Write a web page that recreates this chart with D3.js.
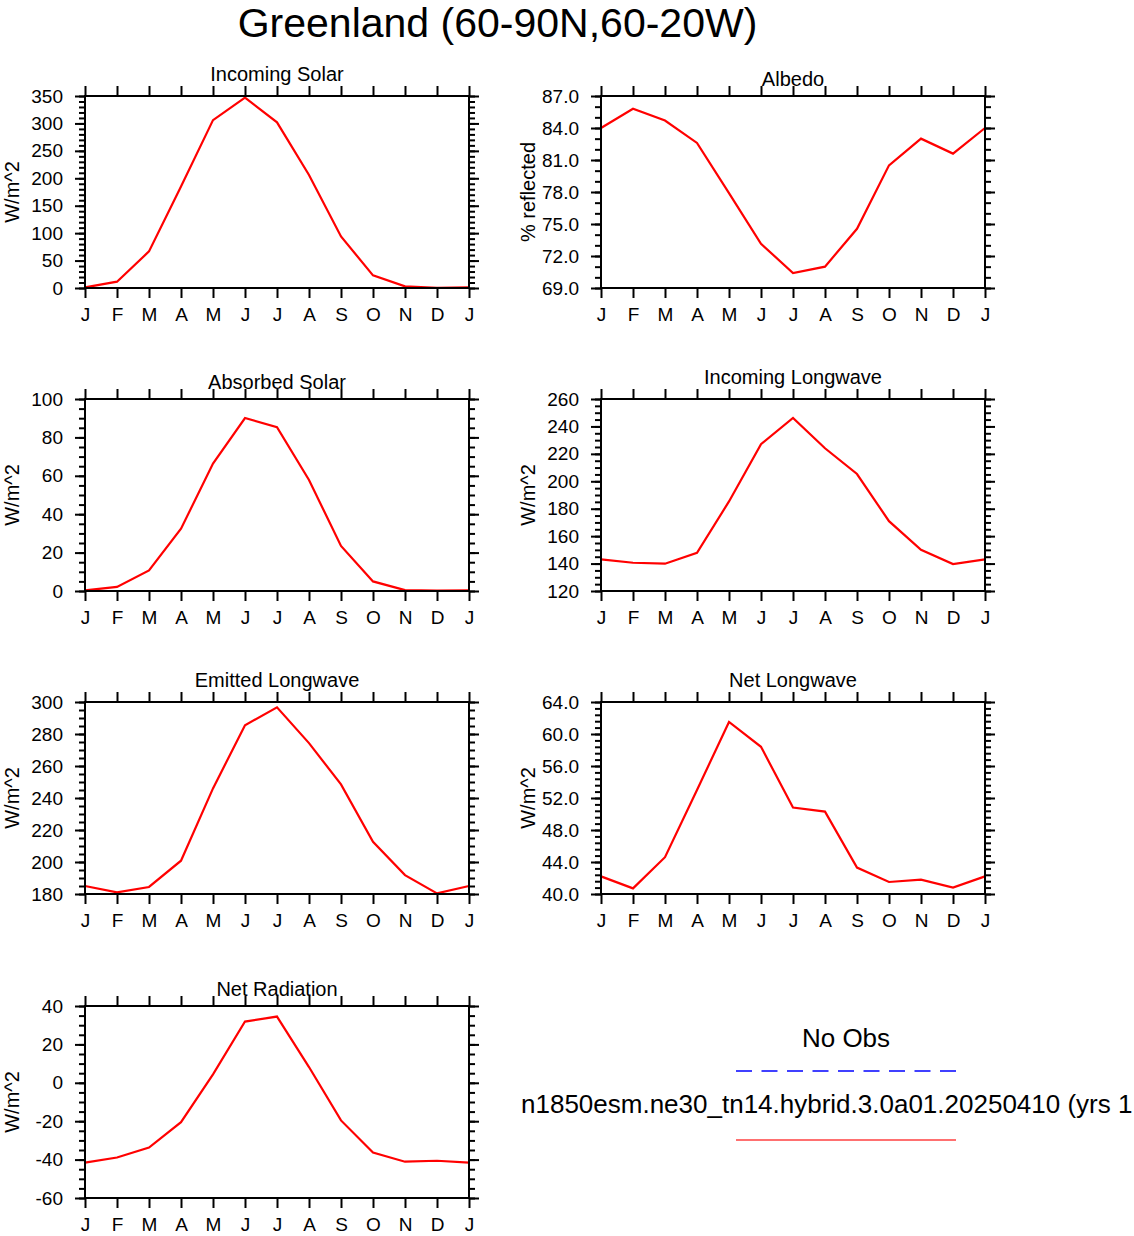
<!DOCTYPE html>
<html>
<head>
<meta charset="utf-8">
<script src="https://d3js.org/d3.v7.min.js"></script>
<style>
    body {
        margin: 0;
        background: #fff;
    }
    svg {
        font-family: "Liberation Sans", Arial, Helvetica, sans-serif;
        display: block;
    }
    .axis path {
        display: none;
    }
    .axis line {
        stroke: #000;
        stroke-width: 2;
    }
    .axis text {
        font-size: 19px;
        fill: #000;
    }
    .frame {
        fill: none;
        stroke: #000;
        stroke-width: 2;
    }
    .series {
        fill: none;
        stroke: #ff0000;
        stroke-width: 2.2;
    }
</style>
</head>
<body>
<script>
    // month labels, Jan..Dec then Jan again to close the cycle
    var months = ["J", "F", "M", "A", "M", "J", "J", "A", "S", "O", "N", "D", "J"];

    // monthly climatology (Jan..Dec)
    var incomingSolar = [1, 11.5, 66.7, 185, 306, 347, 302, 206, 94, 23, 3, 0.2];
    var albedo = [84.0, 85.8, 84.7, 82.6, 77.9, 73.15, 70.4, 71.0, 74.55, 80.5, 83.0, 81.6];
    var absorbedSolar = [0.3, 2.1, 10.7, 32.4, 66.4, 90.1, 85.3, 57.8, 23.5, 5.0, 0.5, 0.2];
    var incomingLongwave = [143.0, 140.6, 139.9, 147.9, 185.3, 227.1, 246.2, 224.1, 205.3, 170.9, 150.0, 139.6];
    var emittedLongwave = [185.0, 181.0, 184.4, 200.8, 246.0, 285.5, 296.7, 274.3, 248.5, 212.6, 191.8, 180.4];
    var netLongwave = [42.2, 40.7, 44.6, 53.0, 61.5, 58.4, 50.8, 50.3, 43.3, 41.5, 41.8, 40.8];
    var netRadiation = [-41.6, -38.9, -33.7, -20.5, 4.4, 31.9, 34.5, 8.2, -19.6, -36.3, -41.1, -40.6];

    // y axis ranges: [min, max, major step, minor step, decimals]
    var yIncomingSolar = [0, 350, 50, 10, 0];
    var yAlbedo = [69, 87, 3, 1, 1];
    var yAbsorbedSolar = [0, 100, 20, 5, 0];
    var yIncomingLongwave = [120, 260, 20, 5, 0];
    var yEmittedLongwave = [180, 300, 20, 5, 0];
    var yNetLongwave = [40, 64, 4, 0.8, 1];
    var yNetRadiation = [-60, 40, 20, 5, 0];

    var mainTitle = "Greenland (60-90N,60-20W)";
    var legendObs = "No Obs";
    var legendModel = "n1850esm.ne30_tn14.hybrid.3.0a01.20250410 (yrs 1";

    var panels = [
        {title: "Incoming Solar", label: "W/m^2", values: incomingSolar, y: yIncomingSolar},
        {title: "Albedo", label: "% reflected", values: albedo, y: yAlbedo},
        {title: "Absorbed Solar", label: "W/m^2", values: absorbedSolar, y: yAbsorbedSolar},
        {title: "Incoming Longwave", label: "W/m^2", values: incomingLongwave, y: yIncomingLongwave},
        {title: "Emitted Longwave", label: "W/m^2", values: emittedLongwave, y: yEmittedLongwave},
        {title: "Net Longwave", label: "W/m^2", values: netLongwave, y: yNetLongwave},
        {title: "Net Radiation", label: "W/m^2", values: netRadiation, y: yNetRadiation}
    ];

    var W = 1134, H = 1236,
        plotW = 384, plotH = 192,
        colX = [85, 601],
        rowY = [96, 399, 702, 1006];

    var svg = d3.select("body").append("svg")
        .attr("width", W)
        .attr("height", H);

    svg.append("text")
        .attr("x", 497.5)
        .attr("y", 37)
        .attr("text-anchor", "middle")
        .style("font-size", "41px")
        .text(mainTitle);

    function steps(lo, hi, step) {
        var n = Math.round((hi - lo) / step);
        return d3.range(n + 1).map(function(i) { return lo + i * step; });
    }

    var x = d3.scaleLinear().domain([0, 12]).range([0, plotW]);

    panels.forEach(function(p, i) {
        var col = i % 2, row = Math.floor(i / 2);
        var g = svg.append("g")
            .attr("transform", "translate(" + colX[col] + "," + rowY[row] + ")");

        var lo = p.y[0], hi = p.y[1], dec = p.y[4];
        var y = d3.scaleLinear().domain([lo, hi]).range([plotH, 0]);
        var majors = steps(lo, hi, p.y[2]);
        var minors = steps(lo, hi, p.y[3]);
        var fmt = function(d) { return d.toFixed(dec); };

        // minor ticks first, majors on top
        g.append("g").attr("class", "axis")
            .call(d3.axisLeft(y).tickValues(minors).tickSize(6).tickFormat(""));
        g.append("g").attr("class", "axis")
            .attr("transform", "translate(" + plotW + ",0)")
            .call(d3.axisRight(y).tickValues(minors).tickSize(6).tickFormat(""));

        g.append("g").attr("class", "axis")
            .call(d3.axisLeft(y).tickValues(majors).tickSize(10).tickPadding(12).tickFormat(fmt));
        g.append("g").attr("class", "axis")
            .attr("transform", "translate(" + plotW + ",0)")
            .call(d3.axisRight(y).tickValues(majors).tickSize(10).tickFormat(""));

        g.append("g").attr("class", "axis")
            .call(d3.axisTop(x).tickValues(d3.range(13)).tickSize(10).tickFormat(""));
        g.append("g").attr("class", "axis")
            .attr("transform", "translate(0," + plotH + ")")
            .call(d3.axisBottom(x).tickValues(d3.range(13)).tickSize(10).tickPadding(10)
                .tickFormat(function(d) { return months[d]; }));

        var pts = p.values.concat([p.values[0]]);
        g.append("path")
            .attr("class", "series")
            .attr("d", d3.line()
                .x(function(d, k) { return x(k); })
                .y(function(d) { return y(d); })(pts));

        g.append("rect")
            .attr("class", "frame")
            .attr("width", plotW)
            .attr("height", plotH);

        // titles with descenders sit a little higher
        var dy = /[gjpqy]/.test(p.title) ? 15 : 10.5;
        g.append("text")
            .attr("x", plotW / 2)
            .attr("y", -dy)
            .attr("text-anchor", "middle")
            .style("font-size", "20px")
            .text(p.title);

        g.append("text")
            .attr("transform", "translate(" + (-73) + "," + (plotH / 2) + ") rotate(-90)")
            .attr("text-anchor", "middle")
            .attr("dy", "0.35em")
            .style("font-size", "20px")
            .text(p.label);
    });

    // legend
    var leg = svg.append("g");
    leg.append("text")
        .attr("x", 846)
        .attr("y", 1047)
        .attr("text-anchor", "middle")
        .style("font-size", "26px")
        .text(legendObs);
    leg.append("line")
        .attr("x1", 736).attr("x2", 956)
        .attr("y1", 1071).attr("y2", 1071)
        .attr("stroke", "#4040ff")
        .attr("stroke-width", 2)
        .attr("stroke-dasharray", "16,9.5");
    leg.append("text")
        .attr("x", 521)
        .attr("y", 1113)
        .style("font-size", "26px")
        .text(legendModel);
    leg.append("line")
        .attr("x1", 736).attr("x2", 956)
        .attr("y1", 1140).attr("y2", 1140)
        .attr("stroke", "#ff4040")
        .attr("stroke-width", 1.6);
</script>
</body>
</html>
